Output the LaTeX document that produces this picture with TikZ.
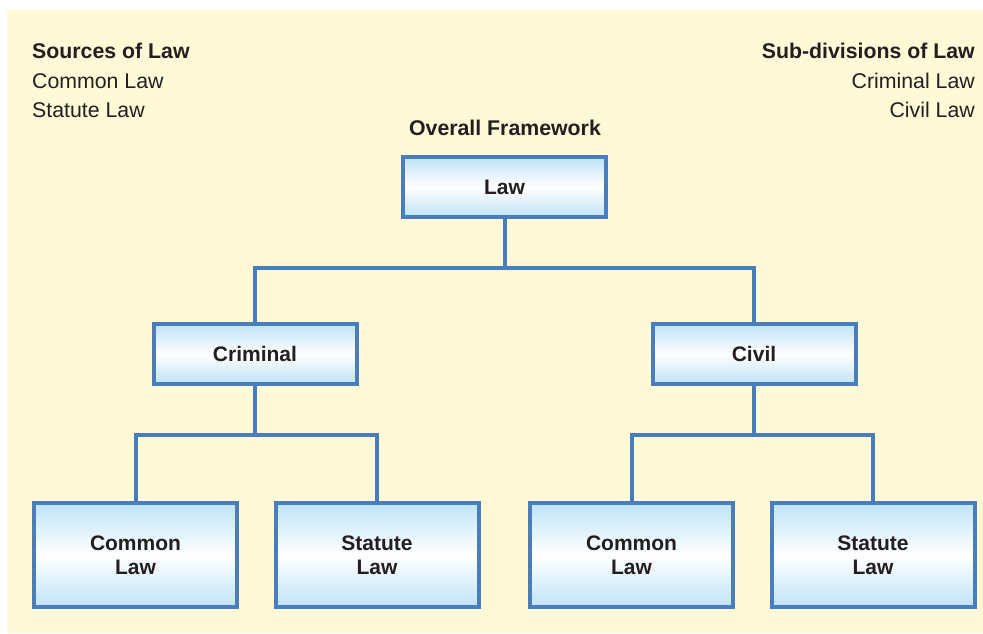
\documentclass[tikz,border=0pt]{standalone}
\usepackage{fontspec}
\setmainfont{Liberation Sans}
\definecolor{cream}{HTML}{FEF9D6}
\definecolor{frame}{HTML}{4A7EBB}
\definecolor{sky}{HTML}{BFE3F6}
\definecolor{ink}{HTML}{231F20}
\tikzset{
  lawbox/.style={draw=frame, line width=4pt, top color=sky, bottom color=sky,
    middle color=white, minimum width=203pt, inner sep=0pt, align=center,
    text=ink, font=\fontsize{21}{24}\selectfont\bfseries},
  small/.style={lawbox, minimum height=60pt},
  tall/.style={lawbox, minimum height=104pt},
  link/.style={draw=frame, line width=4pt, line join=miter},
  note/.style={inner sep=0pt, text=ink, font=\fontsize{21.3}{24}\selectfont},
  bnote/.style={note, font=\fontsize{21.3}{24}\selectfont\bfseries}
}
\begin{document}
\begin{tikzpicture}[x=1pt,y=-1pt]
\useasboundingbox (0,0) rectangle (983,633);
\fill[cream] (7,10) rectangle (983,633);

% side legends
\node[bnote, anchor=base west] (src) at (32,58) {Sources of Law};
\node[note, anchor=base west] (srcA) at (32,88) {Common Law};
\node[note, anchor=base west] (srcB) at (32,117) {Statute Law};
\node[bnote, anchor=base east] (sub) at (975,58) {Sub-divisions of Law};
\node[note, anchor=base east] (subA) at (975,88) {Criminal Law};
\node[note, anchor=base east] (subB) at (975,117) {Civil Law};
\node[bnote, anchor=base] (title) at (505,135) {Overall Framework};

% hierarchy boxes
\node[small] (law) at (504.5,187) {Law};
\node[small] (crim) at (255,354) {Criminal};
\node[small] (civ) at (754,354) {Civil};
\node[tall] (cl1) at (135.5,555) {Common\\Law};
\node[tall] (sl1) at (377,555) {Statute\\Law};
\node[tall] (cl2) at (631.5,555) {Common\\Law};
\node[tall] (sl2) at (873,555) {Statute\\Law};

% connectors
\draw[link] (law.south) -- ++(0,49) coordinate (j0);
\draw[link] (crim.north) |- (j0) -| (civ.north);
\draw[link] (crim.south) -- ++(0,49) coordinate (j1);
\draw[link] (cl1.north) |- (j1) -| (sl1.north);
\draw[link] (civ.south) -- ++(0,49) coordinate (j2);
\draw[link] (cl2.north) |- (j2) -| (sl2.north);
\end{tikzpicture}
\end{document}
